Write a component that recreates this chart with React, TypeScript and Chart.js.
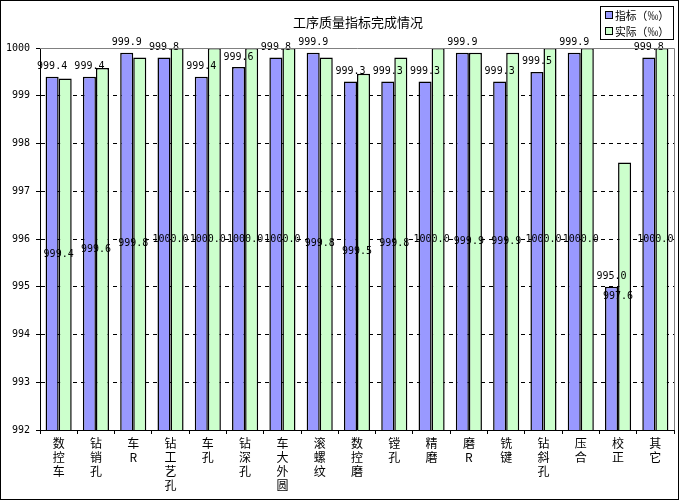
import { useEffect, useRef } from "react";
import { Chart, registerables } from "chart.js";

Chart.register(...registerables);

// category names, one character per line as in the original sheet
const categories = [
  ["数", "控", "车"],
  ["钻", "销", "孔"],
  ["车", "R"],
  ["钻", "工", "艺", "孔"],
  ["车", "孔"],
  ["钻", "深", "孔"],
  ["车", "大", "外", "圆"],
  ["滚", "螺", "纹"],
  ["数", "控", "磨"],
  ["镗", "孔"],
  ["精", "磨"],
  ["磨", "R"],
  ["铣", "键"],
  ["钻", "斜", "孔"],
  ["压", "合"],
  ["校", "正"],
  ["其", "它"],
];

const targetValues = [
  999.4, 999.4, 999.9, 999.8, 999.4, 999.6, 999.8, 999.9, 999.3, 999.3, 999.3,
  999.9, 999.3, 999.5, 999.9, 995.0, 999.8,
];

const actualValues = [
  999.36, 999.58, 999.8, 1000.0, 1000.0, 1000.0, 1000.0, 999.8, 999.46, 999.8,
  1000.0, 999.9, 999.9, 1000.0, 1000.0, 997.6, 1000.0,
];

const seriesNames = ["指标（‰）", "实际（‰）"];
const seriesColors = ["#9999FF", "#CCFFCC"];
const chartTitle = "工序质量指标完成情况";

const monoFont = "'DejaVu Sans Mono', monospace";
const cjkFont = "'Noto Sans CJK SC', sans-serif";

const decorPlugin = {
  id: "decor",
  beforeDraw(chart: any) {
    const ctx = chart.ctx;
    ctx.save();
    ctx.fillStyle = "#ffffff";
    ctx.fillRect(0, 0, chart.width, chart.height);
    ctx.restore();
  },
  afterDatasetsDraw(chart: any) {
    const ctx = chart.ctx;
    const xScale = chart.scales.x;
    const yScale = chart.scales.y;
    ctx.save();
    ctx.font = `10px ${monoFont}`;
    ctx.fillStyle = "#000";
    ctx.textAlign = "center";
    ctx.textBaseline = "middle";
    // blue: value above the bar
    const blueBars = chart.getDatasetMeta(0).data;
    targetValues.forEach((v, i) => {
      const x = blueBars[i] ? blueBars[i].x : xScale.getPixelForValue(i);
      ctx.fillText(v.toFixed(1), x, yScale.getPixelForValue(v) - 10);
    });
    // green: value halfway down the bar, centred on the category
    actualValues.forEach((v, i) => {
      const x = xScale.getPixelForValue(i);
      const y = (yScale.getPixelForValue(v) + yScale.bottom) / 2;
      ctx.fillText(v.toFixed(1), x, y);
    });
    ctx.restore();
  },
  afterDraw(chart: any) {
    const ctx = chart.ctx;
    const { left, right, top } = chart.chartArea;
    ctx.save();
    // plot frame top / right
    ctx.strokeStyle = "#808080";
    ctx.lineWidth = 1;
    ctx.beginPath();
    ctx.moveTo(left, top + 0.5);
    ctx.lineTo(right + 0.5, top + 0.5);
    ctx.lineTo(right + 0.5, chart.scales.y.bottom);
    ctx.stroke();

    // outer frame
    ctx.strokeStyle = "#000";
    ctx.strokeRect(0.5, 0.5, 678, 499);

    // title
    ctx.fillStyle = "#000";
    ctx.font = `13px ${cjkFont}`;
    ctx.textAlign = "center";
    ctx.textBaseline = "middle";
    ctx.fillText(chartTitle, 358, 22);

    // legend
    ctx.strokeRect(600.5, 6.5, 73, 33);
    ctx.font = `11px ${cjkFont}`;
    ctx.textAlign = "left";
    seriesNames.forEach((name, i) => {
      const cy = 15 + i * 16;
      ctx.fillStyle = seriesColors[i];
      ctx.fillRect(605, cy - 4, 8, 8);
      ctx.strokeRect(605.5, cy - 3.5, 7, 7);
      ctx.fillStyle = "#000";
      ctx.fillText(name, 615, cy + 1, 54);
    });
    ctx.restore();
  },
};

const App = () => {
  const canvasRef = useRef<HTMLCanvasElement>(null);

  useEffect(() => {
    document.body.style.margin = "0";
    const ctx = canvasRef.current?.getContext("2d");
    if (!ctx) return;

    const chart = new Chart(ctx, {
      type: "bar",
      data: {
        labels: categories,
        datasets: [
          {
            label: seriesNames[0],
            data: targetValues,
            backgroundColor: seriesColors[0],
            borderColor: "#000",
            borderWidth: 1.5,
          },
          {
            label: seriesNames[1],
            data: actualValues,
            backgroundColor: seriesColors[1],
            borderColor: "#000",
            borderWidth: 1.5,
          },
        ],
      },
      options: {
        animation: false,
        responsive: true,
        maintainAspectRatio: false,
        layout: { padding: { top: 48, right: 6, left: 0, bottom: 0 } },
        datasets: {
          bar: { categoryPercentage: 0.7, barPercentage: 1 },
        },
        plugins: {
          legend: { display: false },
          title: { display: false },
          tooltip: { enabled: false },
        },
        scales: {
          x: {
            afterFit: (scale: any) => {
              scale.height = 71;
            },
            grid: {
              drawOnChartArea: false,
              color: "#000",
              tickLength: 4,
            },
            border: { color: "#000", width: 1 },
            ticks: {
              autoSkip: false,
              maxRotation: 0,
              color: "#000",
              padding: 2,
              font: { family: cjkFont, size: 12, lineHeight: 1.17 },
            },
          },
          y: {
            min: 992,
            max: 1000,
            afterFit: (scale: any) => {
              scale.width = 40;
            },
            grid: {
              color: (c: any) => (c.tick && c.tick.value === 1000 ? "rgba(0,0,0,0)" : "#000"),
              tickColor: "#000",
              tickLength: 4,
            },
            border: { color: "#000", width: 1, dash: [4, 4] },
            ticks: {
              stepSize: 1,
              color: "#000",
              padding: 6,
              font: { family: monoFont, size: 10 },
              callback: (value: any) => String(value),
            },
          },
        },
      },
      plugins: [decorPlugin],
    });

    return () => {
      chart.destroy();
    };
  }, []);

  return (
    <div style={{ width: 680, height: 501, position: "relative" }}>
      <canvas ref={canvasRef}></canvas>
    </div>
  );
};

export default App;
